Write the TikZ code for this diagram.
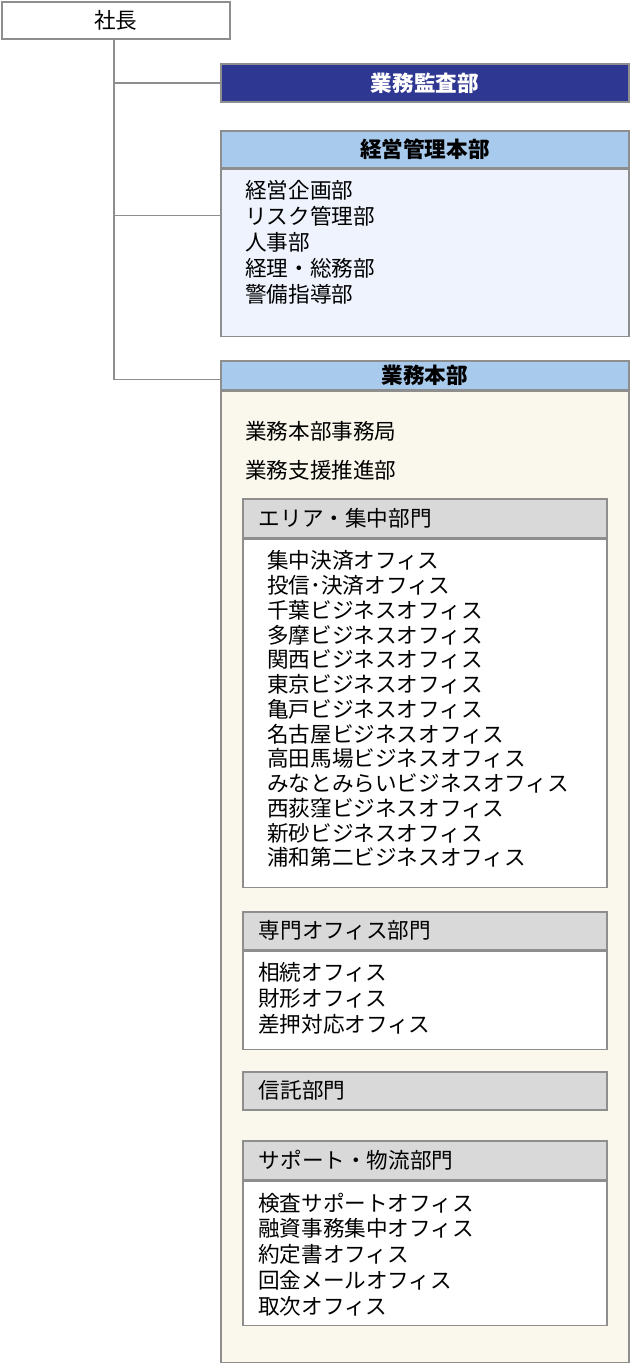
\documentclass[tikz,border=0pt]{standalone}
\usepackage{fontspec}
\setmainfont{Noto Sans CJK JP}
\usetikzlibrary{positioning}
\definecolor{edgegray}{HTML}{8E8E8E}
\definecolor{auditblue}{HTML}{2E3792}
\definecolor{headblue}{HTML}{A8CAEC}
\definecolor{bodyblue}{HTML}{EEF3FE}
\definecolor{bodycream}{HTML}{FAF8EC}
\definecolor{headgray}{HTML}{D9D9D9}
\tikzset{x=1pt, y=1pt,
	every node/.style={inner sep=0pt, font=\fontsize{21.6}{25}\selectfont},
	unit/.style={draw=edgegray, line width=1.6pt, minimum width=408pt, anchor=north west},
	title/.style={font=\fontsize{21.6}{25}\selectfont\bfseries},
	section/.style={draw=edgegray, line width=1.6pt, fill=headgray, anchor=north west,
		text width=332pt, align=left, inner xsep=16pt, minimum height=38pt},
	subbody/.style={draw=edgegray, line width=1.6pt, fill=white, minimum width=364pt},
	list/.style={align=left, font=\fontsize{21.6}{26}\selectfont},
	link/.style={draw=edgegray, line width=1.6pt}}

\begin{document}
\begin{tikzpicture}
    \useasboundingbox (0,0) rectangle (630,-1363);
    % top and audit
    \node[unit, fill=white, minimum width=228pt, minimum height=37pt] (ceo) at (1,-1) {社長};
    \node[unit, fill=auditblue, text=white, title, minimum height=38pt] (audit) at (220,-63) {業務監査部};
    % management
    \node[unit, fill=headblue, title, minimum height=37pt] (mgmt) at (220,-130) {経営管理本部};
    \node[unit, fill=bodyblue, minimum height=167pt, below=0pt of mgmt] (mgmtbody) {};
    \node[list, below right=11pt and 25pt of mgmtbody.north west] (mgmtlist)
        {経営企画部\\リスク管理部\\人事部\\経理・総務部\\警備指導部};
    % operations
    \node[unit, fill=headblue, title, minimum height=29pt] (ops) at (220,-360) {業務本部};
    \node[unit, fill=bodycream, minimum height=971pt, below=0pt of ops] (opsbody) {};
    \node[below right=31pt and 25pt of opsbody.north west] (opsoffice) {業務本部事務局};
    \node[below right=70pt and 25pt of opsbody.north west] (opssupport) {業務支援推進部};

    \node[section, minimum height=39pt] (area) at (242,-498) {エリア・集中部門};
    \node[subbody, minimum height=348pt, below=0pt of area] (areabody) {};
    \node[list, font=\fontsize{21.6}{24.75}\selectfont, below right=12pt and 25pt of areabody.north west] (arealist)
        {集中決済オフィス\\投信･決済オフィス\\千葉ビジネスオフィス\\多摩ビジネスオフィス\\関西ビジネスオフィス\\東京ビジネスオフィス\\亀戸ビジネスオフィス\\名古屋ビジネスオフィス\\高田馬場ビジネスオフィス\\みなとみらいビジネスオフィス\\西荻窪ビジネスオフィス\\新砂ビジネスオフィス\\浦和第二ビジネスオフィス};

    \node[section] (special) at (242,-911) {専門オフィス部門};
    \node[subbody, minimum height=98pt, below=0pt of special] (specialbody) {};
    \node[list, below right=12pt and 16pt of specialbody.north west] (speciallist)
        {相続オフィス\\財形オフィス\\差押対応オフィス};

    \node[section] (trust) at (242,-1071) {信託部門};

    \node[section, minimum height=39pt] (support) at (242,-1140) {サポート・物流部門};
    \node[subbody, minimum height=144pt, below=0pt of support] (supportbody) {};
    \node[list, font=\fontsize{21.6}{25.75}\selectfont, below right=12pt and 16pt of supportbody.north west] (supportlist)
        {検査サポートオフィス\\融資事務集中オフィス\\約定書オフィス\\回金メールオフィス\\取次オフィス};

    % connectors
    \coordinate (mgmtin) at ([yshift=-47pt]mgmtbody.north west);
    \draw[link] ([xshift=-2pt]ceo.south) |- (audit.west);
    \draw[link] ([xshift=-2pt]ceo.south) |- (mgmtin);
    \draw[link] ([xshift=-2pt]ceo.south) |- ([yshift=-4pt]ops.west);
\end{tikzpicture}
\end{document}
